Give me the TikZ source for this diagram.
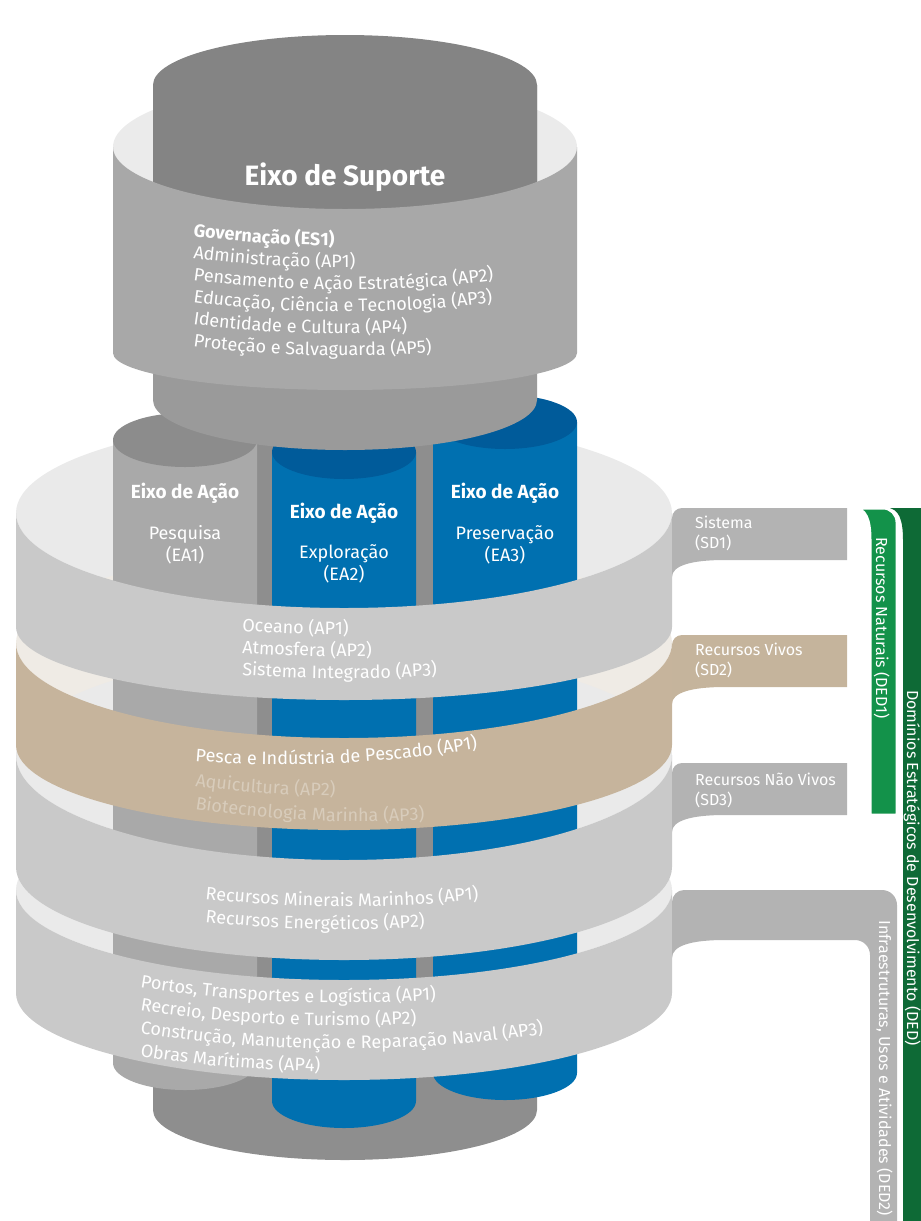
\documentclass[tikz,border=0pt]{standalone}
\usepackage{fontspec}
\setmainfont{Fira Sans}
\usetikzlibrary{decorations.text}

\definecolor{suptop}{HTML}{848484}
\definecolor{suplow}{HTML}{9A9A9A}
\definecolor{basegray}{HTML}{8E8E8E}
\definecolor{capgray}{HTML}{8C8C8C}
\definecolor{facegray}{HTML}{A9A9A9}
\definecolor{capblue}{HTML}{005B9A}
\definecolor{faceblue}{HTML}{0070B0}
\definecolor{esfront}{HTML}{A8A8A8}
\definecolor{esback}{HTML}{EBEBEB}
\definecolor{bandfront}{HTML}{C9C9C9}
\definecolor{bandback}{HTML}{EAEAEA}
\definecolor{tanfront}{HTML}{C6B49C}
\definecolor{tanback}{HTML}{EFEBE5}
\definecolor{tanfade}{HTML}{D8CCBB}
\definecolor{tabgray}{HTML}{B3B3B3}
\definecolor{tabtan}{HTML}{C5B49C}
\definecolor{dedgreen}{HTML}{13924A}
\definecolor{deddark}{HTML}{0E6A36}

\def\bandtxt{\color{white}\fontsize{18}{22}\selectfont}
\def\fadetxt{\color{tanfade}\fontsize{18}{22}\selectfont}

% one line of text bent along the front of a ring: [turn] x, baseline, x radius, y radius, text
\newcommand\arcline[6][0]{%
  \pgfmathsetmacro\arcth{acos((#2-344)/#4)}%
  \path[rotate around={#1:(#2,#3)}, decorate, decoration={text along path, text={#6}}]
    (#2,#3) arc[start angle=\arcth, end angle=0, x radius=#4, y radius=#5];}

\begin{document}
\begin{tikzpicture}[x=1pt, y=-1pt,
  lbl/.style={text=white, inner sep=0pt, font=\fontsize{18}{22}\selectfont, align=center},
  ttl/.style={lbl, font=\fontsize{19}{22}\selectfont\bfseries},
  tablbl/.style={text=white, inner sep=0pt, font=\fontsize{16}{20}\selectfont, align=left, anchor=north west},
  sidelbl/.style={text=white, inner sep=0pt, font=\fontsize{16}{18}\selectfont, rotate=-90, anchor=base}]
\useasboundingbox (0,0) rectangle (921,1221);
\clip (0,0) rectangle (921,1221);

% inner faces of the rings
\foreach \yt/\ry/\col in {513/95/bandback, 643/95/tanback, 755/105/bandback, 890/90/bandback}
  \fill[\col] (344,\yt) ellipse[x radius=328, y radius=\ry];
\fill[esback] (345,147) ellipse[x radius=232, y radius=66];

% base cylinder behind the three axes
\fill[basegray] (153,420) -- (153,1110) arc[start angle=180, end angle=0, x radius=192, y radius=50] -- (537,420) -- cycle;

% action axes EA1, EA2, EA3
\foreach \x/\yc/\yl/\fc/\tc in {185/440/1063/facegray/capgray, 344/452/1101/faceblue/capblue, 505/422/1073/faceblue/capblue} {
  \fill[\fc] (\x-72,\yc) -- (\x-72,\yl) arc[start angle=180, end angle=0, x radius=72, y radius=27] -- (\x+72,\yc) -- cycle;
  \fill[\tc] (\x,\yc) ellipse[x radius=72, y radius=27];
}

% support cylinder on top
\fill[suplow] (153,85) -- (153,400) arc[start angle=180, end angle=0, x radius=192, y radius=50] -- (537,85) -- cycle;
\fill[suptop] (153,300) -- (153,85) arc[start angle=180, end angle=360, x radius=192, y radius=50] -- (537,300) -- cycle;
\fill[esfront] (113,147) arc[start angle=180, end angle=0, x radius=232, y radius=62]
  -- (577,353) arc[start angle=0, end angle=180, x radius=232, y radius=37] -- cycle;

% front faces of the rings
\foreach \yt/\ryt/\yb/\ryb/\col in {513/95/627/73/bandfront, 643/95/745/85/tanfront, 755/105/867/93/bandfront, 890/90/993/87/bandfront}
  \fill[\col] (16,\yt) arc[start angle=180, end angle=0, x radius=328, y radius=\ryt]
    -- (672,\yb) arc[start angle=0, end angle=180, x radius=328, y radius=\ryb] -- cycle;

% sub-domain tabs
\foreach \yt/\col in {508/tabgray, 635/tabtan, 763/tabgray}
  \fill[\col] (672,\yt+69) -- (672,\yt+10) arc[start angle=180, end angle=270, radius=10] -- (847,\yt) -- (847,\yt+52)
    -- (725,\yt+52) .. controls (690,\yt+52) and (672,\yt+58) .. cycle;
\fill[tabgray] (672,958) -- (672,902) arc[start angle=180, end angle=270, radius=12] -- (882,890)
  arc[start angle=270, end angle=360, radius=15] -- (897,1230) -- (870,1230) -- (870,955)
  arc[start angle=0, end angle=-90, radius=15] -- (725,940) .. controls (690,940) and (672,946) .. cycle;

% domain bars
\fill[deddark] (887,508) -- (935,508) -- (935,1230) -- (903,1230) -- (903,540) .. controls (903,520) and (899,508) .. cycle;
\fill[dedgreen, draw=white, line width=3] (853,508) -- (883,508) arc[start angle=270, end angle=360, radius=14]
  -- (897,815) -- (870,815) -- (870,540) .. controls (870,520) and (866,508) .. cycle;

% titles
\node[ttl, font=\fontsize{28}{32}\selectfont\bfseries] (sup) at (345,177) {Eixo de Suporte};
\node[ttl] (ea1t) at (185,493) {Eixo de Ação};
\node[lbl] (ea1) at (185,545) {Pesquisa\\(EA1)};
\node[ttl] (ea2t) at (344,513) {Eixo de Ação};
\node[lbl] (ea2) at (344,564) {Exploração\\(EA2)};
\node[ttl] (ea3t) at (505,493) {Eixo de Ação};
\node[lbl] (ea3) at (505,545) {Preservação\\(EA3)};

% ring texts
\arcline{193}{236}{232}{40}{|\bandtxt\bfseries|Governação (ES1)}
\arcline{193}{258}{232}{40}{|\bandtxt|Administração (AP1)}
\arcline{193}{280}{232}{40}{|\bandtxt|Pensamento e Ação Estratégica (AP2)}
\arcline{193}{302}{232}{40}{|\bandtxt|Educação, Ciência e Tecnologia (AP3)}
\arcline{193}{324}{232}{40}{|\bandtxt|Identidade e Cultura (AP4)}
\arcline{193}{346}{232}{40}{|\bandtxt|Proteção e Salvaguarda (AP5)}
\arcline{242}{631}{328}{70}{|\bandtxt|Oceano (AP1)}
\arcline{242}{653}{328}{70}{|\bandtxt|Atmosfera (AP2)}
\arcline{242}{675}{328}{70}{|\bandtxt|Sistema Integrado (AP3)}
\arcline[3]{195}{761}{328}{90}{|\bandtxt|Pesca e Indústria de Pescado (AP1)}
\arcline{195}{786}{328}{90}{|\fadetxt|Aquicultura (AP2)}
\arcline[-1]{195}{809}{328}{90}{|\fadetxt|Biotecnologia Marinha (AP3)}
\arcline{205}{899}{328}{80}{|\bandtxt|Recursos Minerais Marinhos (AP1)}
\arcline{205}{922}{328}{80}{|\bandtxt|Recursos Energéticos (AP2)}
\arcline{140}{987}{328}{72}{|\bandtxt|Portos, Transportes e Logística (AP1)}
\arcline{140}{1010}{328}{72}{|\bandtxt|Recreio, Desporto e Turismo (AP2)}
\arcline{140}{1033}{328}{72}{|\bandtxt|Construção, Manutenção e Reparação Naval (AP3)}
\arcline{140}{1056}{328}{72}{|\bandtxt|Obras Marítimas (AP4)}

% tab and bar labels
\node[tablbl] (sd1) at (695,516) {Sistema\\(SD1)};
\node[tablbl] (sd2) at (695,643) {Recursos Vivos\\(SD2)};
\node[tablbl] (sd3) at (695,773) {Recursos Não Vivos\\(SD3)};
\node[sidelbl] (ded1) at (876,628) {Recursos Naturais (DED1)};
\node[sidelbl] (ded2) at (879,1068) {Infraestruturas, Usos e Atividades (DED2)};
\node[sidelbl] (ded) at (907,868) {Domínios Estratégicos de Desenvolvimento (DED)};
\end{tikzpicture}
\end{document}
